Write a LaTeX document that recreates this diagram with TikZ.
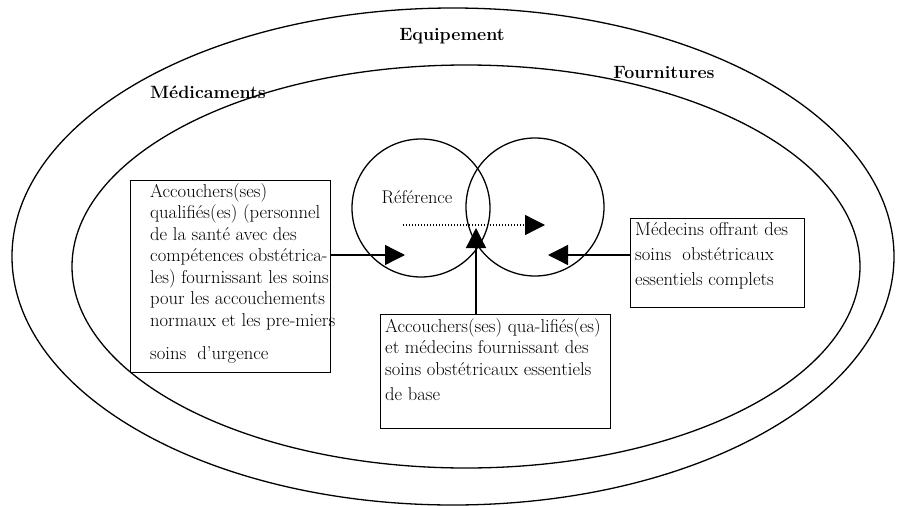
\documentclass[tikz,border=0pt]{standalone}
\usepackage{fontspec}
\usetikzlibrary{arrows.meta}
\tikzset{
  line/.style={line width=1.3pt},
  box/.style={draw, line width=1.3pt, inner sep=0pt, anchor=north west},
  boxtext/.style={anchor=base west, inner sep=0pt, font=\fontsize{18.6}{21.5}\selectfont},
  zonetitle/.style={anchor=base, inner sep=0pt, font=\fontsize{17.8}{20}\selectfont\bfseries},
  reftext/.style={anchor=base, inner sep=0pt, font=\fontsize{18.4}{20}\selectfont},
  tip/.style={-{Triangle[length=20pt,width=20pt]}}
}
\def\boxlines#1{\parbox[t]{260pt}{\raggedright #1}}

\begin{document}
\begin{tikzpicture}[x=1pt,y=-1pt]
		%%%%% START %%%%%
		\useasboundingbox (0,0) rectangle (897,506);
		
		\draw[line] (453,256.5) ellipse [x radius=441, y radius=248.5];
		\draw[line] (466,266.5) ellipse [x radius=394, y radius=201.5];
		
		\node[zonetitle] (equip) at (452,40) {Equipement};
		\node[zonetitle] (fourn) at (664,78) {Fournitures};
		\node[zonetitle] (medic) at (208,98) {Médicaments};
		
		\draw[line] (421,208) circle [radius=69];
		\draw[line] (535,207) circle [radius=69];
		\node[reftext] (ref) at (417,203) {Référence};
		
		\node[box, minimum width=200pt, minimum height=192pt] (lbox) at (130,180) {};
		\node[boxtext] (ltext) at (150,197) {\boxlines{Accouchers(ses)\\ qualifiés(es) (personnel\\ de la santé avec des\\ compétences obstétrica-\\ les) fournissant les soins\\ pour les accouchements\\ normaux et les pre-miers\\[11.5pt] soins\ \ d'urgence}};
		
		\node[box, minimum width=230pt, minimum height=114pt] (bbox) at (380,314) {};
		\node[boxtext] (btext) at (385,332) {\boxlines{Accouchers(ses) qua-lifiés(es)\\ et médecins fournissant des\\ soins obstétricaux essentiels\\[3.5pt] de base}};
		
		\node[box, minimum width=174pt, minimum height=89pt] (rbox) at (630,218) {};
		\node[boxtext] (rtext) at (635,235) {\boxlines{Médecins offrant des\\[3.5pt] soins\ \ obstétricaux\\[3.5pt] essentiels complets}};
		
		\coordinate (tipL) at (405,255);
		\coordinate (tipR) at (548,255);
		\coordinate (tipB) at (476,228);
		\coordinate (dotS) at (403,225);
		\coordinate (dotE) at (545,225);
		
		\draw[line, tip] (lbox.east |- tipL) -- (tipL);
		\draw[line, tip] (rbox.west |- tipR) -- (tipR);
		\draw[line, tip] (bbox.north -| tipB) -- (tipB);
		\draw[line, tip, dash pattern=on 1.3pt off 1.7pt] (dotS) -- (dotE);
		
		%%%%% END %%%%%
	\end{tikzpicture}
\end{document}
